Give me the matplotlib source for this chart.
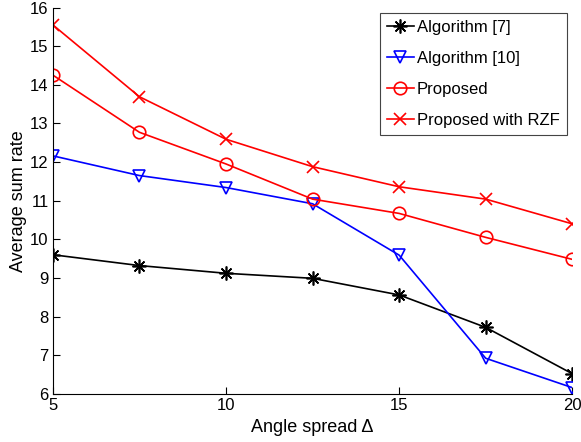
import matplotlib
matplotlib.use('Agg')
import matplotlib.pyplot as plt

plt.rcParams['font.family'] = ['Liberation Sans', 'DejaVu Sans']

# Angle spread values
angles = [5, 7.5, 10, 12.5, 15, 17.5, 20]

# Average sum rate
alg7 = [9.60, 9.32, 9.12, 8.99, 8.56, 7.72, 6.52]
alg10 = [12.16, 11.65, 11.34, 10.92, 9.59, 6.92, 6.16]
proposed = [14.25, 12.77, 11.95, 11.04, 10.67, 10.05, 9.48]
proposed_rzf = [15.55, 13.69, 12.59, 11.88, 11.36, 11.04, 10.40]

fig = plt.figure(figsize=(5.81, 4.42), dpi=100)
ax = fig.add_axes([0.091, 0.109, 0.894, 0.874])

# MATLAB style asterisk marker
asterisk = (8, 2, 0)

ax.plot(angles, alg7, '-', marker=asterisk, color='black', lw=1.2, ms=10, mew=1.2,
        label='Algorithm [7]')
ax.plot(angles, alg10, '-v', color='blue', lw=1.2, ms=9, mfc='none', mew=1.2,
        label='Algorithm [10]')
ax.plot(angles, proposed, '-o', color='red', lw=1.2, ms=9, mfc='none', mew=1.2,
        label='Proposed')
ax.plot(angles, proposed_rzf, '-x', color='red', lw=1.2, ms=8, mew=1.2,
        label='Proposed with RZF')

ax.set_xlim(5, 20)
ax.set_ylim(6, 16)
ax.set_xticks([5, 10, 15, 20])
ax.set_yticks(range(6, 17))
ax.tick_params(direction='in', labelsize=12, length=5, pad=3)
ax.spines['top'].set_visible(False)
ax.spines['right'].set_visible(False)
ax.set_xlabel('Angle spread Δ', fontsize=13, labelpad=4)
ax.set_ylabel('Average sum rate', fontsize=13, labelpad=2)

leg = ax.legend(loc='upper right', fontsize=12, fancybox=False, edgecolor='#444444',
                handlelength=1.6, handletextpad=0.2, labelspacing=0.95,
                borderpad=0.45, borderaxespad=0.3, framealpha=1,
                bbox_to_anchor=(1.0, 1.0))
leg.get_frame().set_linewidth(0.8)

fig.savefig('out.png', dpi=100)
